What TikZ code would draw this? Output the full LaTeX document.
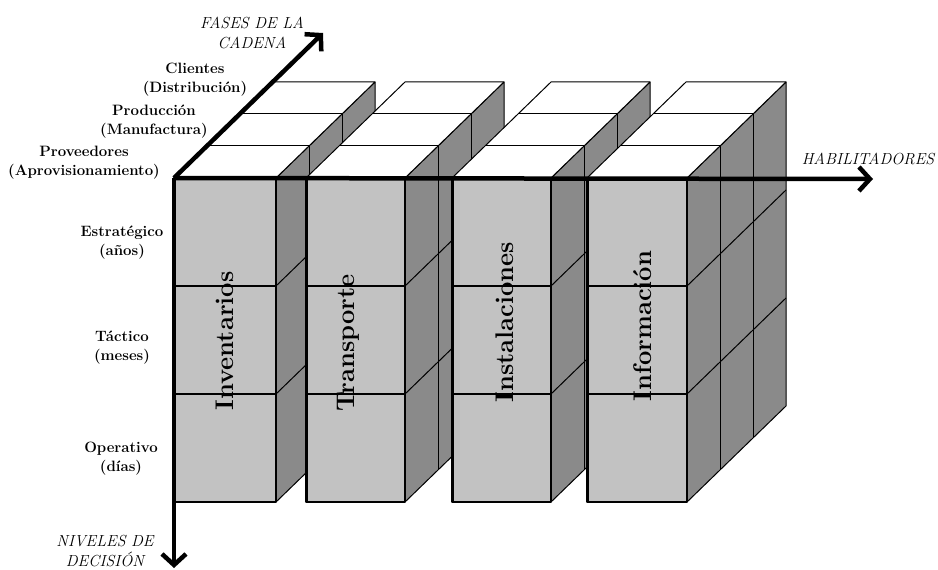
\documentclass[tikz,border=0pt]{standalone}
\usepackage{tikz}
\usetikzlibrary{arrows.meta}

\begin{document}
\begin{tikzpicture}[x=1pt, y=1pt,
    front/.style={fill=black!24, draw, line width=1.8pt, line join=round},
    side/.style={fill=black!46, draw, line width=1pt, line join=round},
    top/.style={fill=white, draw, line width=1pt, line join=round},
    grid line/.style={line width=1pt},
    axis/.style={line width=4.5pt, -{Straight Barb[length=11pt, width=24pt]}},
    level/.style={font=\fontsize{15}{19}\selectfont\bfseries, align=center},
    title/.style={font=\fontsize{16}{20}\selectfont\itshape, align=center},
    block/.style={font=\fontsize{25.5}{30}\selectfont\bfseries, rotate=90}]
    \useasboundingbox (-174,-392) rectangle (764,178);

    % Define points
    \coordinate (O) at (0,0);
    \coordinate (H) at (699,-1);
    \coordinate (V) at (0,-390);
    \coordinate (F) at (149,145);

    % Blocks: 3 levels high, 3 phases deep
    \foreach \xl/\xr/\name/\lx/\ly [count=\i] in {0/102/Inventarios/51/-163,
        132/231/Transporte/174/-165, 278/377/Instalaciones/331/-144,
        413/513/Información/469/-148} {
      % side face
      \draw[side] (\xr,0) -- (\xr,-324) -- ++(99,96) -- (\xr+99,96) -- cycle;
      \foreach \k in {1,2}
        \draw[grid line] (\xr+33*\k,32*\k) -- ++(0,-324);
      \foreach \j in {1,2}
        \draw[grid line] (\xr,-108*\j) -- ++(99,96);
      % top face
      \draw[top] (\xl,0) -- (\xr,0) -- ++(99,96) -- (\xl+99,96) -- cycle;
      \foreach \k in {1,2}
        \draw[grid line] (\xl+33*\k,32*\k) -- (\xr+33*\k,32*\k);
      % front face
      \draw[front] (\xl,0) rectangle (\xr,-324);
      \foreach \j in {1,2}
        \draw[grid line, line width=1.4pt] (\xl,-108*\j) -- (\xr,-108*\j);
      \draw[line width=3pt] (\xl,0) -- (\xl,-324);
      \node[block] (b\i) at (\lx,\ly) {\name};
    }

    % Draw axes
    \draw[axis] (O) -- (H);
    \draw[axis] (O) -- (V);
    \draw[axis] (O) -- (F);

    % Axis titles
    \node[title] (fases) at (78,145) {FASES DE LA\\CADENA};
    \node[title] (habil) at (694,19) {HABILITADORES};
    \node[title] (niveles) at (-69,-373) {NIVELES DE\\DECISIÓN};

    % Phases and levels
    \node[level] (cli) at (21,98) {Clientes\\(Distribución)};
    \node[level] (prod) at (-20,56) {Producción\\(Manufactura)};
    \node[level] (prov) at (-90,15) {Proveedores\\(Aprovisionamiento)};
    \node[level] (estr) at (-52,-65) {Estratégico\\(años)};
    \node[level] (tact) at (-52,-170) {Táctico\\(meses)};
    \node[level] (oper) at (-53,-281) {Operativo\\(días)};
\end{tikzpicture}
\end{document}
